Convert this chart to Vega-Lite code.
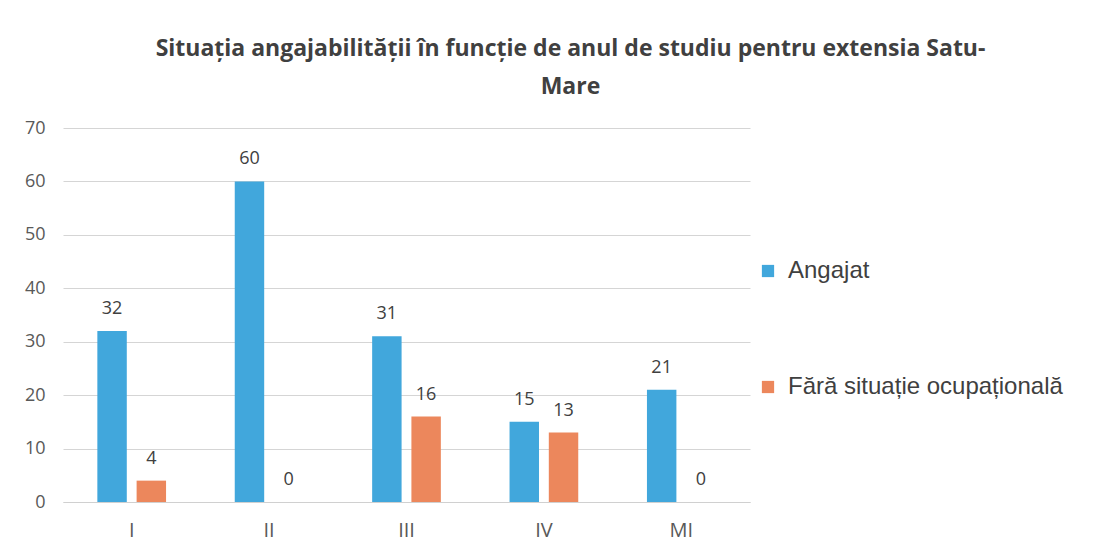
{
  "$schema": "https://vega.github.io/schema/vega-lite/v6.json",
  "width": 687,
  "height": 374,
  "autosize": "none",
  "padding": {"left": 63, "top": 128, "right": 360, "bottom": 50},
  "background": "white",
  "config": {"view": {"stroke": null}},
  "title": {
    "text": ["Situația angajabilității în funcție de anul de studiu pentru extensia Satu-", "Mare"],
    "anchor": "middle",
    "dx": 164,
    "offset": 20,
    "font": "Open Sans",
    "fontSize": 23,
    "fontWeight": "bold",
    "color": "#404040",
    "lineHeight": 38
  },
  "data": {
    "values": [
      {"an": "I", "serie": "Angajat", "valoare": 32},
      {"an": "I", "serie": "Fără situație ocupațională", "valoare": 4},
      {"an": "II", "serie": "Angajat", "valoare": 60},
      {"an": "II", "serie": "Fără situație ocupațională", "valoare": 0},
      {"an": "III", "serie": "Angajat", "valoare": 31},
      {"an": "III", "serie": "Fără situație ocupațională", "valoare": 16},
      {"an": "IV", "serie": "Angajat", "valoare": 15},
      {"an": "IV", "serie": "Fără situație ocupațională", "valoare": 13},
      {"an": "MI", "serie": "Angajat", "valoare": 21},
      {"an": "MI", "serie": "Fără situație ocupațională", "valoare": 0}
    ]
  },
  "encoding": {
    "x": {
      "field": "an", "type": "nominal", "sort": null, "title": null,
      "scale": {"paddingInner": 0.5, "paddingOuter": 0.25},
      "axis": {"labelAngle": 0, "labelFont": "Open Sans", "labelFontSize": 20, "labelColor": "#595959", "ticks": false, "tickSize": 0, "labelPadding": 18, "domainColor": "#d0d0d0", "grid": false}
    },
    "xOffset": {"field": "serie", "type": "nominal", "scale": {"paddingInner": 0.25}},
    "y": {
      "field": "valoare", "type": "quantitative", "title": null,
      "scale": {"domain": [0, 70]},
      "axis": {"values": [0, 10, 20, 30, 40, 50, 60, 70], "domain": false, "ticks": false, "tickSize": 0, "labelPadding": 18, "labelFont": "Open Sans", "labelFontSize": 18, "labelColor": "#595959", "gridColor": "#d5d5d5", "gridWidth": 1}
    }
  },
  "layer": [
    {
      "mark": {"type": "bar"},
      "encoding": {
        "color": {
          "field": "serie", "type": "nominal", "title": null,
          "scale": {"domain": ["Angajat", "Fără situație ocupațională"], "range": ["#41a7dc", "#ec875c"]},
          "legend": {
            "orient": "none", "legendX": 693, "legendY": 131,
            "symbolType": "square", "symbolSize": 150, "symbolStrokeWidth": 0,
            "labelFont": "Liberation Sans", "labelFontSize": 24, "labelColor": "#404040", "labelLimit": 0,
            "rowPadding": 92, "labelOffset": 8
          }
        }
      }
    },
    {
      "mark": {"type": "text", "dy": -22, "font": "Open Sans", "fontSize": 18, "color": "#404040"},
      "encoding": {"text": {"field": "valoare", "type": "quantitative"}}
    }
  ]
}
